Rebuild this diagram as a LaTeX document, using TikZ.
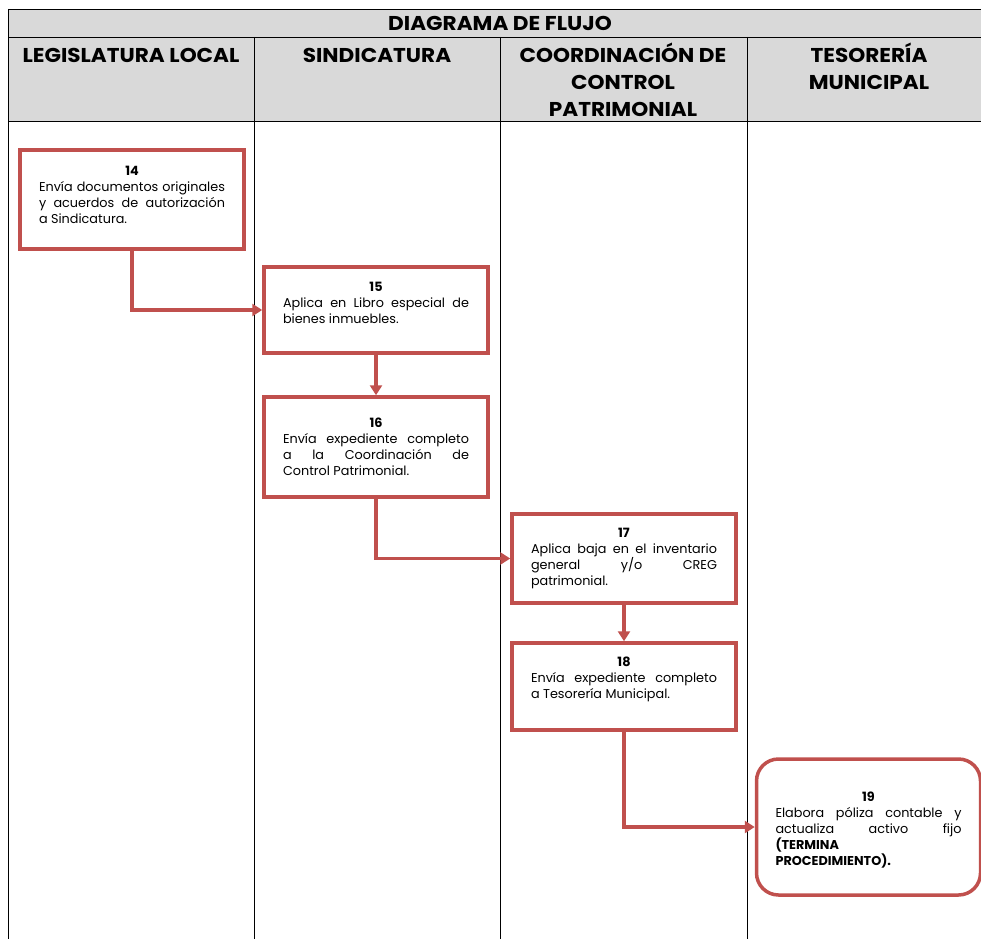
\documentclass[tikz,border=0pt]{standalone}
\usepackage{fontspec}
\setmainfont{Poppins}
\newfontfamily\headfont[FakeStretch=1.08]{Poppins}
\usetikzlibrary{arrows.meta}
\definecolor{boxred}{HTML}{C0504D}
\definecolor{headgray}{HTML}{D9D9D9}
\newcommand{\stepnum}[1]{\hyphenpenalty=10000\relax\exhyphenpenalty=10000\relax\hbox to\linewidth{\hss\bfseries #1\hss}\par}
\newcommand{\botpad}[1]{\par\nointerlineskip\kern#1\hbox{}}
\begin{document}
\begin{tikzpicture}[x=1pt,y=-1pt,
  grid/.style={draw=black,line width=0.9pt},
  stepbox/.style={draw=boxred,line width=3.5pt,fill=white,text width=186pt,inner xsep=19pt,inner ysep=4pt,
    align=justify,font=\fontsize{12.8}{16}\selectfont,minimum width=224pt},
  arr/.style={draw=boxred,line width=3.5pt,-{Triangle[length=10pt,width=12pt]}},
  colhead/.style={font=\headfont\bfseries\fontsize{20}{27}\selectfont,align=center,anchor=north}]
\useasboundingbox (0,0) rectangle (981,939);
% header
\fill[headgray] (8,9) rectangle (981,121);
\draw[grid] (8,9) -- (981,9);
\draw[grid] (8,37) -- (981,37);
\draw[grid] (8,121) -- (981,121);
\draw[grid] (8,9) -- (8,939);
\foreach \xx in {254,500,747} \draw[grid] (\xx,37) -- (\xx,939);
\node[font=\headfont\bfseries\fontsize{20}{24}\selectfont] (title) at (500,23) {DIAGRAMA DE FLUJO};
\node[colhead] (h1) at (131,45) {LEGISLATURA LOCAL};
\node[colhead] (h2) at (377,45) {SINDICATURA};
\node[colhead] (h3) at (623,39) {COORDINACIÓN DE\\CONTROL\\PATRIMONIAL};
\node[colhead] (h4) at (869,39) {TESORERÍA\\MUNICIPAL};
% boxes
\node[stepbox,minimum height=99pt] (b14) at (132,199.5)
  {\stepnum{14}Envía documentos originales\linebreak y acuerdos de autorización\linebreak a Sindicatura.\botpad{10pt}};
\node[stepbox,minimum height=86pt] (b15) at (376,310)
  {\stepnum{15}Aplica en Libro especial de\linebreak bienes inmuebles.\botpad{14pt}};
\node[stepbox,minimum height=100pt] (b16) at (376,447)
  {\stepnum{16}Envía expediente completo\linebreak a la Coordinación de\linebreak Control Patrimonial.};
\node[stepbox,minimum height=89pt] (b17) at (624,558.5)
  {\stepnum{17}Aplica baja en el inventario\linebreak general y/o CREG\linebreak patrimonial.};
\node[stepbox,minimum height=87pt] (b18) at (624,686.5)
  {\stepnum{18}Envía expediente completo\linebreak a Tesorería Municipal.\botpad{14pt}};
\node[stepbox,minimum height=136pt,rounded corners=22pt,minimum width=223pt] (b19) at (868.5,827)
  {\stepnum{19}Elabora póliza contable y\linebreak actualiza activo fijo\linebreak {\bfseries (TERMINA\\PROCEDIMIENTO).}\botpad{-6pt}};
% connectors
\draw[arr] (b14.south) |- (b15.west);
\draw[arr] (b15.south) -- (b16.north);
\draw[arr] (b16.south) |- (b17.west);
\draw[arr] (b17.south) -- (b18.north);
\draw[arr] (b18.south) |- (b19.west);
\end{tikzpicture}
\end{document}
